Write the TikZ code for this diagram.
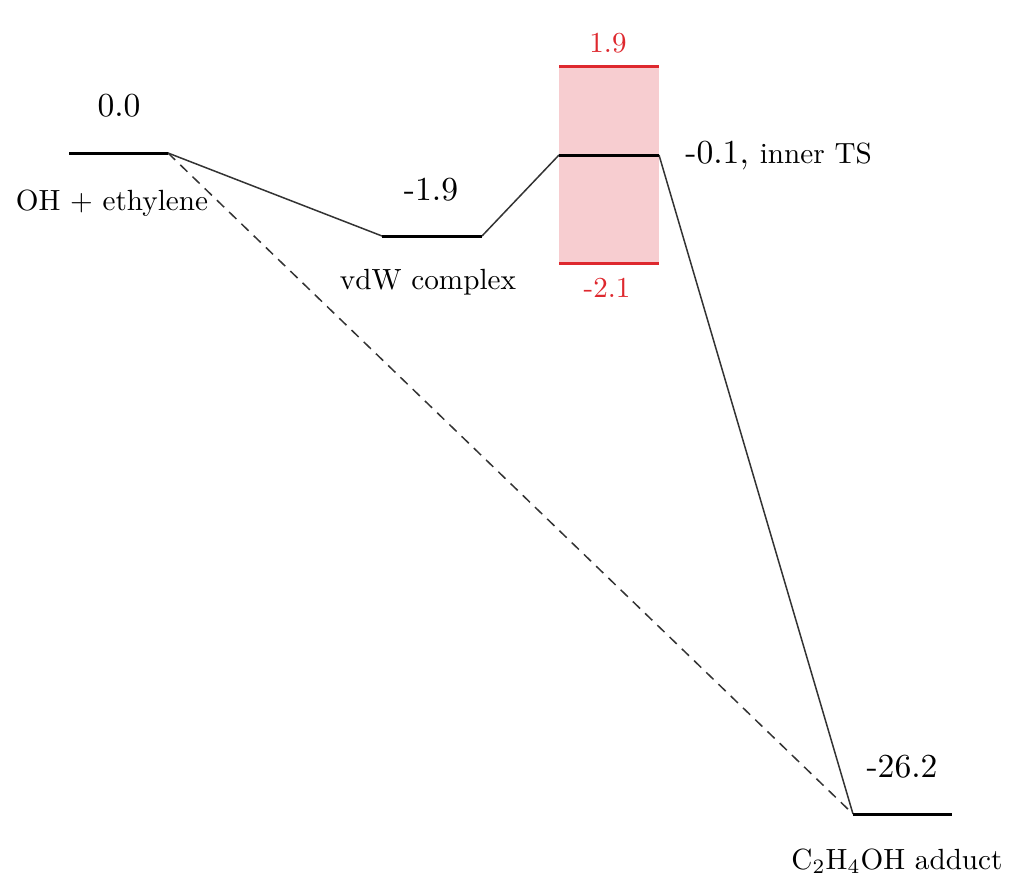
\documentclass[tikz,border=0pt]{standalone}
\usepackage{tikz}
\usepackage{graphicx}
\definecolor{BarrierRed}{RGB}{222,40,46}
\definecolor{BarrierFill}{RGB}{247,205,208}
\newcommand{\numtxt}[1]{\scalebox{1.68}{#1}}
\newcommand{\redtxt}[1]{\scalebox{1.45}{#1}}
\newcommand{\statetxt}[1]{\scalebox{1.46}{#1}}

\begin{document}
\begin{tikzpicture}[x=0.5pt,y=-0.5pt,
  level/.style={line width=1.5pt},
  linkline/.style={line width=0.75pt,black!80},
  bound/.style={line width=1.5pt,BarrierRed},
  lbl/.style={font=\fontsize{10}{12}\selectfont,anchor=base,inner sep=0pt},
  redlbl/.style={lbl,BarrierRed}]
\useasboundingbox (0,0) rectangle (1024,894);
% level end points
\coordinate (react-l) at (69,153);  \coordinate (react-r) at (168,153);
\coordinate (vdw-l) at (382,236);   \coordinate (vdw-r) at (482,236);
\coordinate (ts-l) at (559,155);    \coordinate (ts-r) at (659,155);
\coordinate (prod-l) at (853,814);  \coordinate (prod-r) at (952,814);
% uncertainty band on the inner TS
\fill[BarrierFill] (559,66) rectangle (659,263);
\coordinate (hi-l) at (559,66);  \coordinate (hi-r) at (659,66);
\coordinate (lo-l) at (559,263); \coordinate (lo-r) at (659,263);
\draw[bound] (hi-l) -- (hi-r);
\draw[bound] (lo-l) -- (lo-r);
\node[redlbl] (hi-val) at (608,53) {\redtxt{1.9}};
\node[redlbl] (lo-val) at (607,297) {\redtxt{-2.1}};
% connectors
\draw[linkline] (react-r) -- (vdw-l);
\draw[linkline] (vdw-r) -- (ts-l);
\draw[linkline] (ts-r) -- (prod-l);
\draw[linkline,dash pattern=on 5pt off 3.5pt] (react-r) -- (prod-l);
% levels
\draw[level] (react-l) -- (react-r);
\draw[level] (vdw-l) -- (vdw-r);
\draw[level] (ts-l) -- (ts-r);
\draw[level] (prod-l) -- (prod-r);
% labels
\node[lbl] (react-val) at (119,116) {\numtxt{0.0}};
\node[lbl] (react-name) at (112,210) {\statetxt{OH + ethylene}};
\node[lbl] (vdw-val) at (431,200) {\numtxt{-1.9}};
\node[lbl] (vdw-name) at (428,289) {\statetxt{vdW complex}};
\node[lbl,anchor=base west] (ts-val) at (685,163) {\numtxt{-0.1,}\hspace{5.5pt}\statetxt{inner TS}};
\node[lbl] (prod-val) at (902,777) {\numtxt{-26.2}};
\node[lbl] (prod-name) at (897,869) {\statetxt{C$_2$H$_4$OH adduct}};
\end{tikzpicture}
\end{document}
